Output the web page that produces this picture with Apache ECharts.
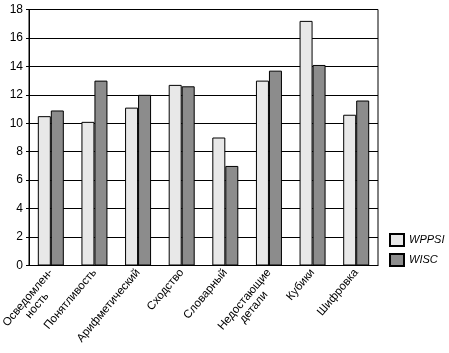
<!DOCTYPE html>
<html>
<head>
<meta charset="utf-8">
<script src="https://cdn.jsdelivr.net/npm/echarts@6/dist/echarts.min.js"></script>
<style>
  html, body { margin: 0; padding: 0; background: #fff; }
  #main { width: 449px; height: 353px; }
</style>
</head>
<body>
<div id="main"></div>
<script>
// субтесты
var categories = ['Осведомлен-\nность', 'Понятливость', 'Арифметический', 'Сходство',
  'Словарный', 'Недостающие\nдетали', 'Кубики', 'Шифровка'];
var wppsi = [10.5, 10.1, 11.1, 12.7, 9.0, 13.0, 17.2, 10.6];
var wisc = [10.9, 13.0, 12.0, 12.6, 7.0, 13.7, 14.1, 11.6];
var yTicks = { min: 0, max: 18, interval: 2 };

// двухстрочные подписи: первая строка на месте обычной подписи
var catData = categories.map(function (c) {
  if (c.indexOf('\n') < 0) return c;
  return { value: c, textStyle: { padding: [12, 0, 0, 0] } };
});

var chart = echarts.init(document.getElementById('main'));

var option = {
  backgroundColor: '#fff',
  animation: false,
  textStyle: { fontFamily: 'Liberation Sans' },
  grid: {
    left: 29,
    right: 71,
    top: 9.5,
    bottom: 87.5,
    outerBoundsMode: 'none',
    containLabel: false,
    show: true,
    borderColor: '#000',
    borderWidth: 1
  },
  legend: {
    orient: 'vertical',
    left: 384,
    top: 228,
    itemWidth: 14,
    itemHeight: 12,
    itemGap: 6,
    icon: 'rect',
    data: ['WPPSI', 'WISC'],
    textStyle: { fontSize: 11, fontStyle: 'italic', color: '#000' }
  },
  xAxis: {
    type: 'category',
    data: catData,
    axisLine: { lineStyle: { color: '#000', width: 1 } },
    axisTick: { show: false },
    axisLabel: {
      interval: 0,
      rotate: 50,
      fontSize: 11.5,
      color: '#000',
      margin: 5,
      lineHeight: 12,
      formatter: function (v) {
        return v.split('\n').map(function (s) { return '{c|' + s + '}'; }).join('\n');
      },
      rich: {
        c: { align: 'center', fontSize: 11.5, lineHeight: 12, color: '#000', fontFamily: 'Liberation Sans' }
      }
    }
  },
  yAxis: {
    type: 'value',
    min: yTicks.min,
    max: yTicks.max,
    interval: yTicks.interval,
    axisLine: { show: true, lineStyle: { color: '#000', width: 1 } },
    axisTick: { show: true, length: 3, lineStyle: { color: '#000' } },
    axisLabel: { fontSize: 12, color: '#000', margin: 6 },
    splitLine: { lineStyle: { color: '#000', width: 1 } }
  },
  series: [
    {
      name: 'WPPSI',
      type: 'bar',
      data: wppsi,
      barWidth: 13,
      barGap: '0%',
      itemStyle: { color: '#e8e8e8', borderColor: '#000', borderWidth: 1 }
    },
    {
      name: 'WISC',
      type: 'bar',
      data: wisc,
      barWidth: 13,
      itemStyle: { color: '#8c8c8c', borderColor: '#000', borderWidth: 1 }
    }
  ]
};

chart.setOption(option);
</script>
</body>
</html>
